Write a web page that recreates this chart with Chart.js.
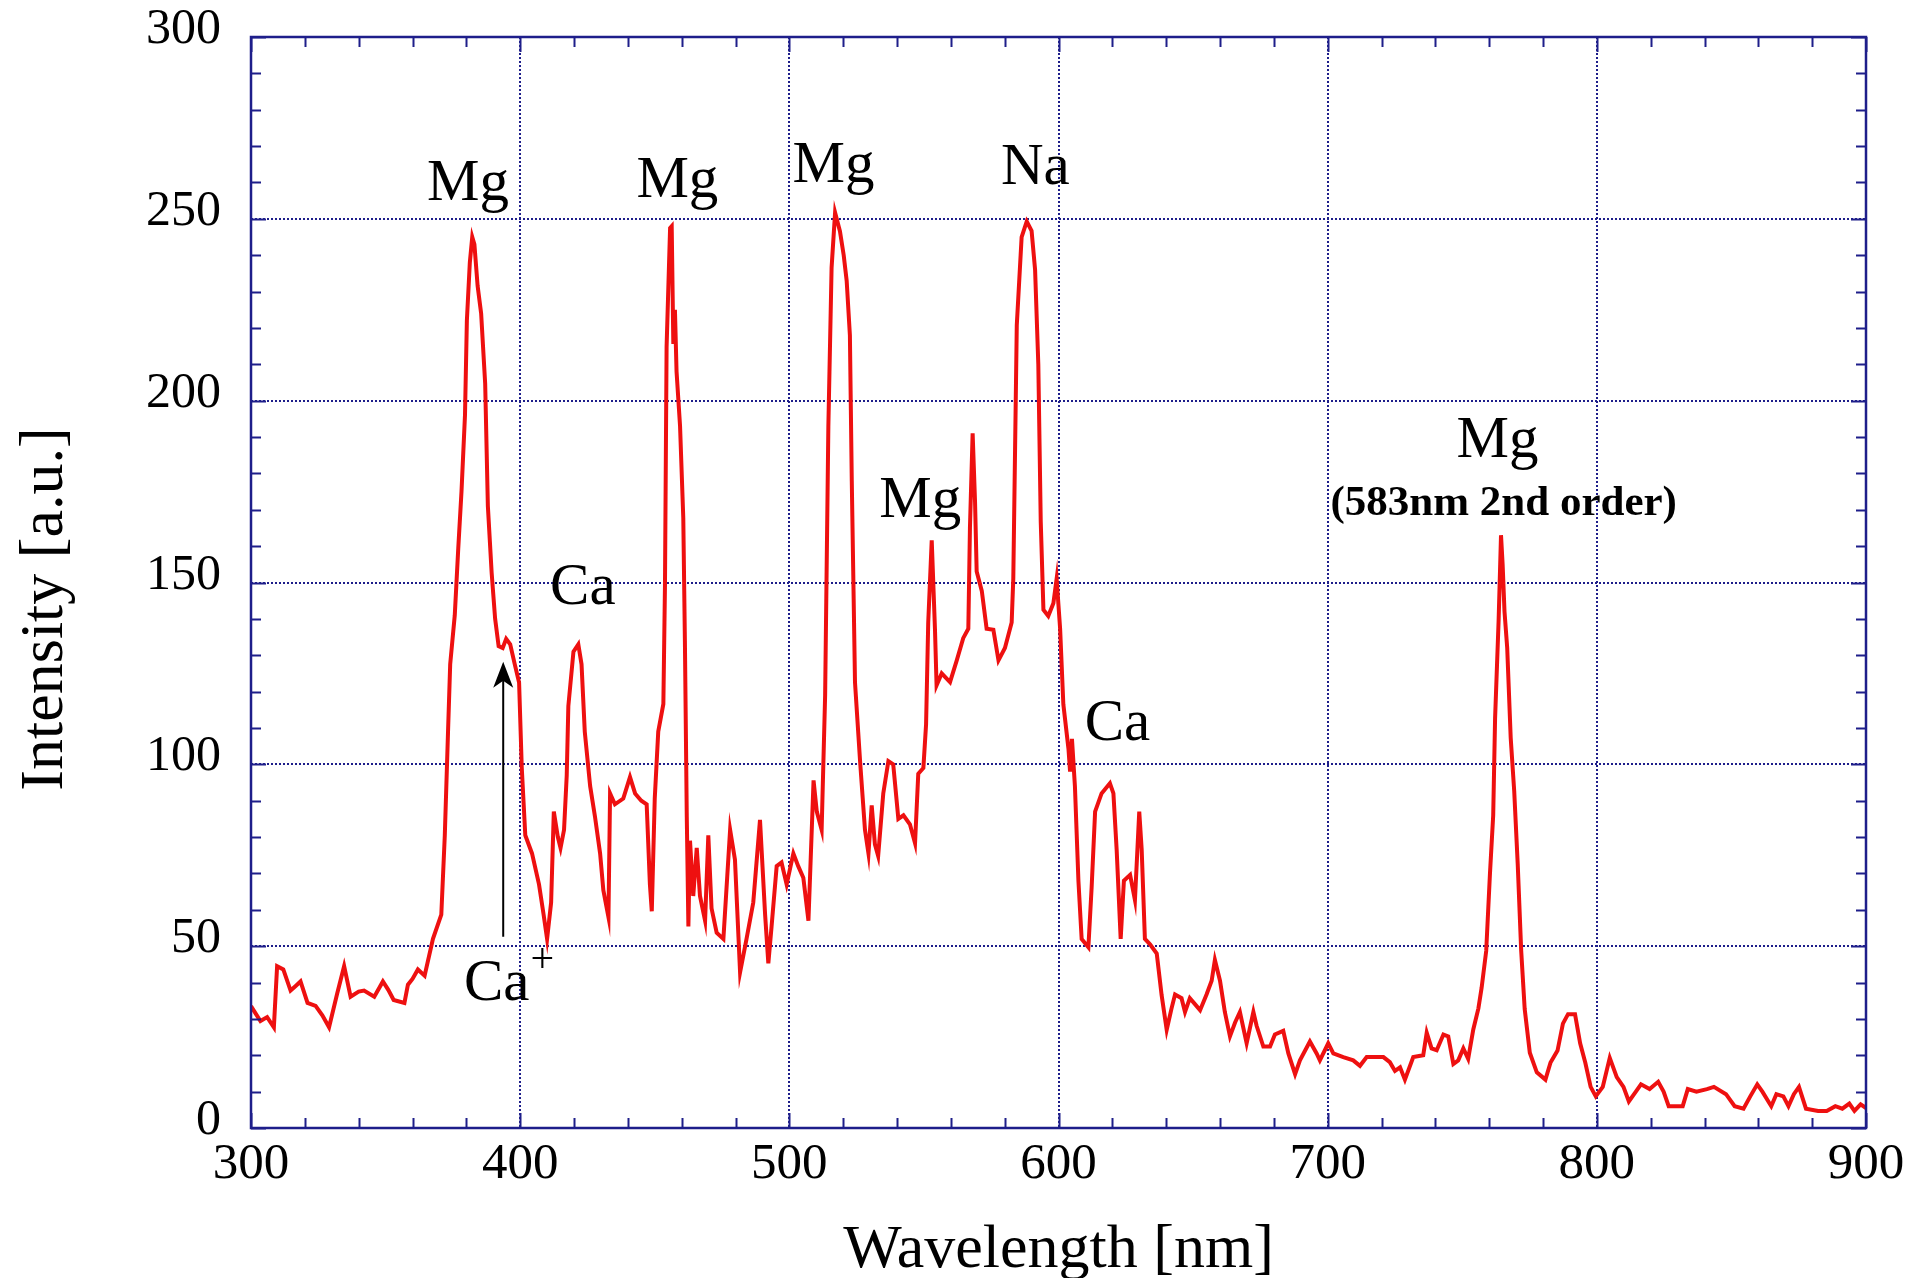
<!DOCTYPE html>
<html>
<head>
<meta charset="utf-8">
<title>Emission spectrum</title>
<script src="https://cdn.jsdelivr.net/npm/chart.js@4.4.1/dist/chart.umd.min.js"></script>
<style>
  html, body { margin: 0; padding: 0; background: #fff; }
  #wrap { width: 1921px; height: 1278px; }
</style>
</head>
<body>
<div id="wrap"><canvas id="spectrum" width="1921" height="1278"></canvas></div>
<script>
// measured spectrum: wavelength [nm] and intensity [a.u.]
const wavelength = [
  300, 303.5, 306, 308.5, 309.7, 312, 314.7, 316.5, 318.4, 321, 324, 326.5, 329, 332, 334.6, 337, 340, 342, 345.8, 349,
  351, 353, 357, 358.3, 360, 362, 364.5, 367.6, 370.7, 372, 373.2, 374, 375.7, 377, 378.2, 379.5, 380.2, 381.3, 382.2, 383,
  384.2, 385.5, 387, 388, 389.4, 390.7, 392, 393.5, 394.8, 396.3, 398, 399.6, 400.6, 401.9, 404.4, 407, 408.7, 410, 411.5, 412.5,
  414, 415, 416.3, 417.3, 417.9, 419.8, 421.6, 422.8, 424, 426, 427.8, 429.7, 430.9, 432.8, 433.4, 435.2, 438.3, 440.8, 442.7, 445,
  447, 448.2, 448.9, 450, 451.3, 453.2, 453.8, 454.4, 455.7, 456.3, 456.9, 457.5, 458.1, 459.4, 460.6, 461.2, 461.9, 462.5, 463.1, 464.3,
  465.6, 466.8, 468.7, 469.9, 471.1, 473, 475.5, 478, 479.8, 481.7, 484.1, 486.6, 489.1, 491, 492.2, 493.4, 495.3, 497.1, 499, 501.5,
  503.3, 505.2, 507.1, 509, 510.2, 512, 513.3, 514.5, 515.7, 517, 518.8, 520.2, 521.3, 522.5, 523.2, 524.4, 526.3, 528.1, 529.4, 530.6,
  531.8, 533, 534.9, 536.8, 538.6, 540.5, 542.4, 544.8, 546.7, 547.9, 549.8, 550.8, 551.6, 552.9, 554.1, 554.7, 556.6, 559.7, 562.2, 564.6,
  566.5, 567.1, 568.1, 569, 569.6, 571.5, 573.3, 575.8, 577.7, 580.1, 582.6, 583.2, 584.5, 586.3, 588.2, 590, 591.3, 592.5, 593.4, 594.4,
  596.2, 598.1, 599.3, 600.6, 601.8, 603.7, 604.3, 605, 606.1, 607.4, 608.6, 611.1, 612.3, 613.6, 616, 619.1, 620.4, 621.6, 623.1, 624.3,
  626.6, 628.4, 630, 630.9, 632.1, 634, 636.5, 638.3, 640.2, 642, 643.3, 645.7, 647, 648.8, 652.6, 655, 656.9, 658.1, 660, 661.8,
  663.7, 665.6, 667.4, 669.9, 672.4, 673.6, 676.1, 678.6, 680.4, 683.5, 685.4, 687.9, 689.7, 693.4, 695.9, 697.1, 700.2, 702.1, 705.8, 709.5,
  712, 714.5, 720.7, 723.1, 725, 726.9, 728.7, 731.8, 735.5, 736.8, 738.6, 740.5, 743, 744.8, 746.7, 748.5, 750.4, 752.2, 754.1, 756,
  757.2, 758.9, 760.3, 761.5, 762.2, 763.5, 764.4, 765, 765.7, 766.7, 768, 769.3, 770.6, 771.9, 773.2, 775.1, 777.7, 780.9, 782.8, 785.4,
  787.4, 789.3, 791.9, 793.8, 795.7, 797.7, 799.6, 802.2, 804.8, 807.4, 809.9, 811.9, 814.5, 816.4, 819.6, 822.8, 824.8, 826.7, 831.9, 833.8,
  837, 840.9, 843.5, 848, 851.2, 854.5, 857, 859.6, 861.5, 864.8, 866.7, 869.3, 871.2, 873.2, 875.1, 877.7, 882.2, 885.4, 888.6, 891.2,
  893.8, 895.7, 898, 900
];
const intensity = [
  33.5, 29.4, 30.5, 27.7, 44.5, 43.6, 37.8, 39, 40.3, 34.4, 33.6, 31, 27.7, 36.9, 44.5, 36.1, 37.5, 37.8, 36.1, 40.3,
  38, 35.2, 34.4, 39.4, 41, 43.6, 41.9, 52, 58.7, 80.5, 109, 127.5, 141, 159.4, 175, 196, 222, 238, 245, 243,
  231.5, 224, 204.7, 171, 152.7, 140, 132.5, 132, 134.5, 133, 127.5, 122.5, 99, 80.5, 75.5, 67, 58.7, 52, 62, 87,
  80, 77, 82, 97, 116, 131, 133, 127.5, 109, 94, 85.6, 75.5, 65.4, 58, 92, 89, 90.6, 96.5, 92, 90,
  89, 67, 59.6, 90.6, 109, 116.6, 149.3, 214.8, 247.5, 248, 215.6, 225, 208, 193, 167.8, 134, 85.6, 55.4, 79, 63.8,
  77, 63.8, 57, 80.5, 60.4, 53.7, 52, 82, 73.8, 42.8, 52, 62, 84.7, 58.7, 45.3, 55.4, 72, 73, 67, 75.5,
  72, 68.8, 57, 95.6, 87, 82, 119, 193, 236.6, 251.7, 246.6, 240, 233, 218, 177.9, 122.5, 100.7, 82, 75.5, 88.7,
  78, 74.8, 92, 100.9, 100, 85, 86, 83.5, 78.3, 97.4, 99, 111, 139, 161.6, 137.3, 121.7, 125, 122.6, 128.6, 134.7,
  137.3, 165, 191, 172, 153, 147.7, 137.3, 137, 128.6, 132, 139, 151, 220.7, 245, 249.3, 246.7, 236, 210, 166.8, 142.5,
  140.8, 144.3, 151, 137.3, 116.5, 104.3, 98, 107, 94, 68, 52, 49.7, 66, 87, 92, 94.8, 92, 76.6, 52, 68,
  69.6, 62.7, 87, 76.6, 52, 50.5, 48, 36.6, 27, 32.9, 36.7, 35.7, 31.9, 35.7, 32.4, 36.7, 40.5, 46.2, 40.5, 31.9,
  25.2, 29, 31.9, 23.3, 31.9, 28.1, 22.4, 22.4, 25.7, 26.7, 20.5, 14.8, 18.6, 23.8, 20.5, 18.6, 23.3, 20.5, 19.5, 18.6,
  17.1, 19.5, 19.5, 18.1, 15.7, 16.7, 13.3, 19.5, 20, 26.2, 21.9, 21.4, 25.7, 25.2, 17.6, 18.6, 21.9, 19, 27.1, 32.9,
  38.6, 48.7, 70, 86, 112.7, 139.3, 163, 155, 142, 132, 107.3, 92.7, 72.7, 48.7, 32.7, 20.7, 15.3, 13.3, 18, 21.3,
  28.7, 31.3, 31.3, 23.3, 18, 11.3, 8.7, 11.3, 19.3, 14, 11.3, 7.3, 10, 12, 10.7, 12.7, 10, 6, 6, 10.7,
  10, 10.7, 11.3, 9.3, 6, 5.3, 8.7, 12, 10, 6, 9.3, 8.7, 6, 9.3, 11.3, 5.3, 4.7, 4.7, 6, 5.3,
  6.7, 4.7, 6.5, 5.5
];

const xTicks = [300, 400, 500, 600, 700, 800, 900];
const yTicks = [0, 50, 100, 150, 200, 250, 300];

// line assignments written on the plot (wavelength, intensity at text baseline)
const peakLabels = [
  { text: 'Mg', x: 380.6, y: 255.2 },
  { text: 'Mg', x: 458.4, y: 256 },
  { text: 'Mg', x: 516.4, y: 260 },
  { text: 'Na', x: 591.4, y: 259.5 },
  { text: 'Mg', x: 548.6, y: 168 },
  { text: 'Ca', x: 423.3, y: 144 },
  { text: 'Ca', x: 621.9, y: 106.8 },
  { text: 'Ca', x: 391.3, y: 35.2 },
  { text: '+', x: 408.2, y: 42.9, small: true },
  { text: 'Mg', x: 763.1, y: 184.4 },
  { text: '(583nm 2nd order)', x: 765.4, y: 168.5, note: true }
];
// Ca+ arrow from below up to the shoulder
const caArrow = { x: 393.7, from: 52.6, to: 128.2 };

const SERIF = "'Liberation Serif', 'Times New Roman', Times, serif";
const AXIS = '#1e1e8a';

const frameTicks = {
  id: 'frameTicks',
  afterDatasetsDraw(chart) {
    const { ctx, chartArea: a, scales: { x, y } } = chart;
    ctx.save();
    ctx.strokeStyle = AXIS;
    ctx.lineWidth = 2;
    ctx.beginPath();
    // x ticks every 20 nm, long at each 100
    for (let v = 300; v <= 900; v += 20) {
      const px = Math.round(x.getPixelForValue(v)) + 0.5;
      const len = v % 100 === 0 ? 15 : 10;
      ctx.moveTo(px, a.bottom); ctx.lineTo(px, a.bottom - len);
      ctx.moveTo(px, a.top); ctx.lineTo(px, a.top + len);
    }
    // y ticks every 10, long at each 50
    for (let v = 0; v <= 300; v += 10) {
      const py = Math.round(y.getPixelForValue(v)) + 0.5;
      const len = v % 50 === 0 ? 15 : 10;
      ctx.moveTo(a.left, py); ctx.lineTo(a.left + len, py);
      ctx.moveTo(a.right, py); ctx.lineTo(a.right - len, py);
    }
    ctx.stroke();
    ctx.lineWidth = 2.5;
    ctx.strokeRect(a.left, a.top, a.right - a.left, a.bottom - a.top);

    // y axis title
    ctx.fillStyle = '#000';
    ctx.font = '62px ' + SERIF;
    ctx.textAlign = 'center';
    ctx.textBaseline = 'middle';
    ctx.translate(46, 609);
    ctx.rotate(-Math.PI / 2);
    ctx.fillText('Intensity [a.u.]', 0, 0);
    ctx.restore();
  }
};

const annotations = {
  id: 'annotations',
  afterDatasetsDraw(chart) {
    const { ctx, scales: { x, y } } = chart;
    ctx.save();
    ctx.fillStyle = '#000';
    ctx.textAlign = 'center';
    ctx.textBaseline = 'alphabetic';
    peakLabels.forEach(l => {
      if (l.note) ctx.font = 'bold 43px ' + SERIF;
      else if (l.small) ctx.font = '42px ' + SERIF;
      else ctx.font = '59px ' + SERIF;
      ctx.fillText(l.text, x.getPixelForValue(l.x), y.getPixelForValue(l.y));
    });

    const ax = x.getPixelForValue(caArrow.x);
    const y0 = y.getPixelForValue(caArrow.from);
    const y1 = y.getPixelForValue(caArrow.to);
    ctx.strokeStyle = '#000';
    ctx.lineWidth = 2;
    ctx.beginPath();
    ctx.moveTo(ax, y0);
    ctx.lineTo(ax, y1 + 15);
    ctx.stroke();
    ctx.beginPath();
    ctx.moveTo(ax, y1);
    ctx.lineTo(ax - 10, y1 + 26);
    ctx.lineTo(ax, y1 + 19);
    ctx.lineTo(ax + 10, y1 + 26);
    ctx.closePath();
    ctx.fill();
    ctx.restore();
  }
};

new Chart(document.getElementById('spectrum'), {
  type: 'line',
  data: {
    datasets: [{
      data: wavelength.map((w, i) => ({ x: w, y: intensity[i] })),
      borderColor: '#ee1010',
      borderWidth: 4,
      pointRadius: 0,
      tension: 0,
      fill: false
    }]
  },
  options: {
    responsive: false,
    animation: false,
    devicePixelRatio: 1,
    layout: { padding: { top: 37, right: 55, left: 0, bottom: 0 } },
    plugins: { legend: { display: false }, tooltip: { enabled: false } },
    scales: {
      x: {
        type: 'linear',
        min: 300,
        max: 900,
        afterBuildTicks: s => { s.ticks = xTicks.map(v => ({ value: v })); },
        afterFit: s => { s.height = 150; s.paddingLeft = 0; s.paddingRight = 0; },
        grid: { color: AXIS, lineWidth: 2, drawTicks: false },
        border: { display: false, dash: [2, 2] },
        ticks: { color: '#000', font: { family: SERIF, size: 51 }, padding: 6, maxRotation: 0 },
        title: {
          display: true,
          text: 'Wavelength [nm]',
          color: '#000',
          font: { family: SERIF, size: 62, lineHeight: 1 },
          padding: { top: 0, bottom: -4 }
        }
      },
      y: {
        min: 0,
        max: 300,
        afterBuildTicks: s => { s.ticks = yTicks.map(v => ({ value: v })); },
        afterFit: s => { s.width = 251; s.paddingTop = 0; s.paddingBottom = 0; },
        grid: { color: AXIS, lineWidth: 2, drawTicks: false },
        border: { display: false, dash: [2, 2] },
        ticks: { color: '#000', font: { family: SERIF, size: 50 }, padding: 30, labelOffset: -7 }
      }
    }
  },
  plugins: [frameTicks, annotations]
});
</script>
</body>
</html>
